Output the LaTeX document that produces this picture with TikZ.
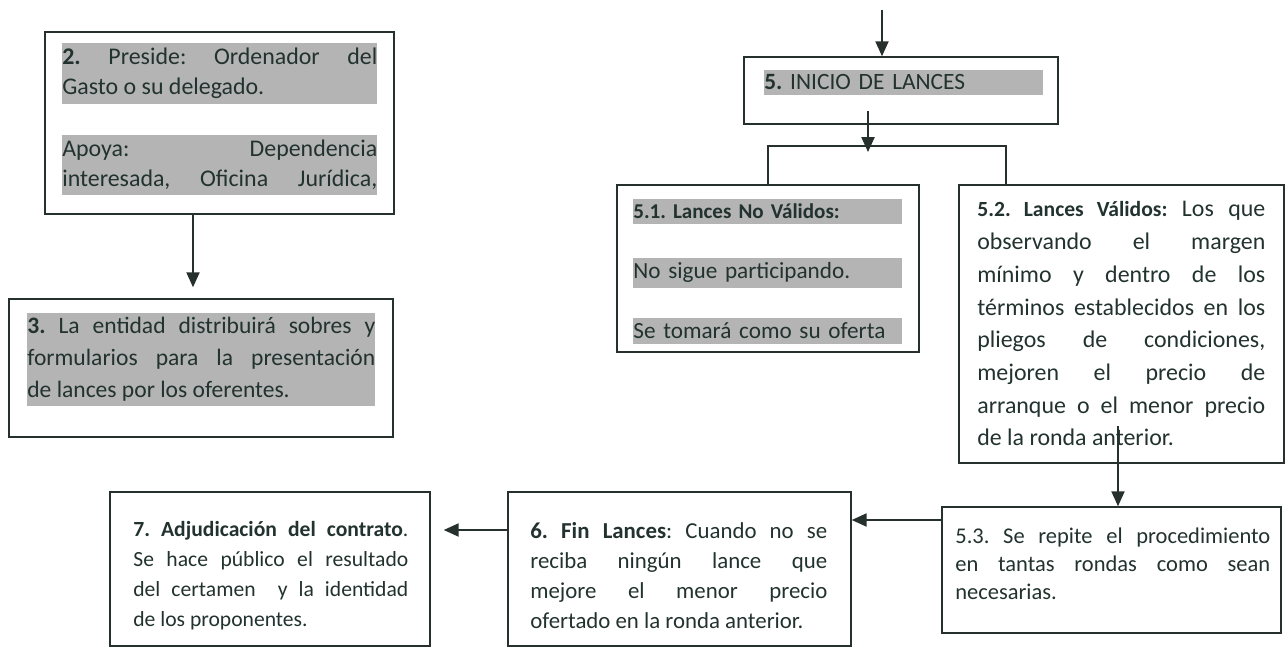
\documentclass[tikz,border=0pt]{standalone}
\usepackage{fontspec}
\setmainfont{Carlito}
\frenchspacing
\usetikzlibrary{arrows.meta}
\definecolor{ink}{HTML}{22322E}
\definecolor{edge}{HTML}{26302D}
\definecolor{hl}{HTML}{B4B4B4}
\begin{document}
\begin{tikzpicture}[x=0.02cm,y=-0.02cm,
    box/.style={draw=edge,line width=0.9pt,inner sep=0pt},
    txt/.style={text=ink,inner sep=0pt,align=justify,anchor=base west,font=\fontsize{12}{17}\selectfont},
    band/.style={txt,fill=hl,inner ysep=2.8pt},
    arr/.style={draw=edge,line width=0.9pt,-{Triangle[width=7.5pt,length=8.5pt]}},
    link/.style={draw=edge,line width=0.9pt}]
  \useasboundingbox (0,0) rectangle (1286,648);
  % the boxes
  \node[box,minimum width=6.98cm,minimum height=3.64cm] (b2) at (219.5,123) {}; % 2. preside
  \node[box,minimum width=7.68cm,minimum height=2.76cm] (b3) at (201,368) {}; % 3. sobres
  \node[box,minimum width=6.28cm,minimum height=1.34cm] (b5) at (901,90.5) {}; % 5. inicio
  \node[box,minimum width=6.04cm,minimum height=3.34cm] (b51) at (768,268.5) {}; % 5.1
  \node[box,minimum width=6.5cm,minimum height=5.56cm] (b52) at (1121.5,324) {}; % 5.2
  \node[box,minimum width=6.78cm,minimum height=2.52cm] (b53) at (1111.5,570) {}; % 5.3
  \node[box,minimum width=6.86cm,minimum height=3.08cm] (b6) at (679.5,569) {}; % 6. fin
  \node[box,minimum width=6.4cm,minimum height=3.08cm] (b7) at (270,569) {}; % 7. adjudicacion
  % texts, grey ones are highlighted
  \node[band,text width=6.3cm,font=\fontsize{13.6}{17}\selectfont] (t2a) at (62,65) {\textbf{2.} Preside: Ordenador del\linebreak Gasto o su delegado.};
  \node[band,text width=6.3cm,font=\fontsize{13.6}{17}\selectfont] (t2b) at (62,157) {Apoya:\hfill Dependencia\linebreak interesada,\hfill Oficina\hfill Jurídica,};
  \node[band,text width=6.96cm,font=\fontsize{13.4}{18.1}\selectfont] (t3) at (27,334) {\textbf{3.} La entidad distribuirá sobres y\linebreak formularios para la presentación\linebreak de lances por los oferentes.};
  \node[band,text width=5.58cm,align=left,font=\fontsize{13.3}{16}\selectfont] (t5) at (764,90) {\textbf{5.} INICIO DE LANCES};
  \node[band,text width=5.38cm,align=left,font=\fontsize{12}{14}\selectfont\bfseries] (t51a) at (633,219) {5.1. Lances No Válidos:};
  \node[band,text width=5.38cm,align=left,font=\fontsize{13.2}{16}\selectfont] (t51b) at (633,279) {No sigue participando.};
  \node[band,text width=5.38cm,align=left,font=\fontsize{13.2}{16}\selectfont] (t51c) at (633,339) {Se tomará como su oferta};
  \node[txt,text width=5.76cm,font=\fontsize{13.6}{18.6}\selectfont] (t52) at (977,217) {{\fontsize{12.3}{18.6}\selectfont\bfseries 5.2. Lances Válidos:} Los que\linebreak observando el margen\linebreak mínimo y dentro de los\linebreak términos establecidos en los\linebreak pliegos de condiciones,\linebreak mejoren el precio de\linebreak arranque o el menor precio\linebreak de la ronda anterior.};
  \node[txt,text width=6.3cm,font=\fontsize{12.8}{15.8}\selectfont] (t53) at (955,544) {5.3. Se repite el procedimiento\linebreak en tantas rondas como sean\linebreak necesarias.};
  \node[txt,text width=5.94cm,font=\fontsize{13}{17}\selectfont] (t6) at (530,539) {\textbf{6. Fin Lances}: Cuando no se\linebreak reciba ningún lance que\linebreak mejore el menor precio\linebreak ofertado en la ronda anterior.};
  \node[txt,text width=5.5cm,font=\fontsize{12.3}{17}\selectfont] (t7) at (133,537) {\textbf{7. Adjudicación del contrato}.\linebreak Se hace público el resultado\linebreak del certamen~ y la identidad\linebreak de los proponentes.};
  % arrows
  \coordinate (top5) at (882,10);
  \draw[arr] (top5) -- (top5 |- b5.north);
  \path ([xshift=-0.53cm]b2.south) coordinate (o2);
  \draw[arr,shorten >=0.22cm] (o2) -- (o2 |- b3.north);
  \coordinate (split) at (868,146);
  \path ([xshift=-0.66cm,yshift=0.28cm]b5.south) coordinate (o5);
  \draw[arr,shorten >=-0.12cm] (o5) -- (o5 |- split);
  \path ([xshift=-2.31cm]b52.north) coordinate (i52);
  \draw[link] (b51.north) |- (split) -| (i52); % the split bar
  \path ([xshift=-0.07cm,yshift=0.76cm]b52.south) coordinate (o52);
  \draw[arr] (o52) -- (o52 |- b53.north);
  \path ([yshift=1cm]b53.west) coordinate (o53);
  \draw[arr] (o53) -- (o53 -| b6.east);
  \path ([yshift=0.78cm]b6.west) coordinate (o6);
  \draw[arr,shorten >=0.26cm] (o6) -- (o6 -| b7.east);
\end{tikzpicture}
\end{document}
